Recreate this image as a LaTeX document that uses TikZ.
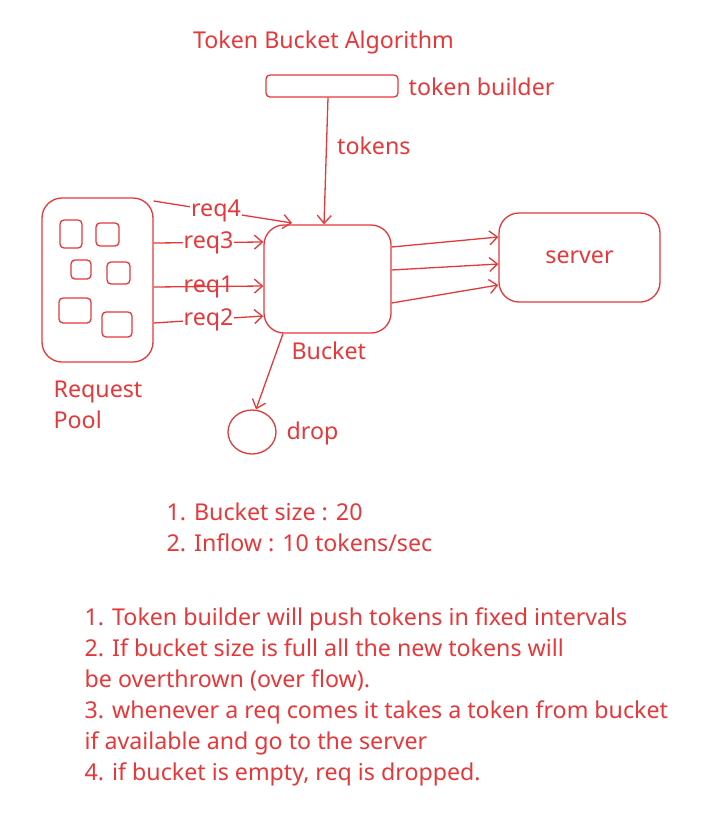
\documentclass[tikz,border=0pt]{standalone}
\usepackage{fontspec}
\setmainfont{Noto Sans}
\usetikzlibrary{arrows.meta,shapes.geometric}
\definecolor{ink}{RGB}{228,56,58}
\begin{document}
\begin{tikzpicture}[x=1pt, y=-1pt, line width=1.3pt, draw=ink, text=ink,
  font=\fontsize{23.2}{31}\selectfont,
  box/.style={draw=ink, rounded corners=20pt, inner sep=0pt},
  lbl/.style={inner sep=0pt, anchor=west},
  tag/.style={fill=white, inner sep=1pt},
  arr/.style={ink, -{Straight Barb[length=8pt, width=14pt, line width=1.3pt]}},
  ]
  \useasboundingbox (0,0) rectangle (713,814);

  %%% title %%%
  \node[inner sep=0pt] (title) at (323.5,42) {Token Bucket Algorithm};

  %%% token builder %%%
  \node[box, rounded corners=4pt, minimum width=132pt, minimum height=22pt] (builder) at (332,86) {};
  \node[lbl] (builderlbl) at (408,87) {token builder};

  %%% bucket, server, drop %%%
  \node[box, minimum width=127pt, minimum height=108pt] (bucket) at (327.5,279) {};
  \node[lbl] (bucketlbl) at (291,351) {Bucket};
  \node[box, minimum width=161pt, minimum height=89pt] (server) at (579.5,257.5) {server};
  \node[draw=ink, ellipse, minimum width=48pt, minimum height=44pt, inner sep=0pt] (drop) at (252,432) {};
  \node[lbl] (droplbl) at (286,433) {drop};

  %%% request pool %%%
  \node[box, minimum width=111pt, minimum height=164pt] (pool) at (97.5,280) {};
  \node[lbl, align=left, anchor=north west] (poollbl) at (53,380) {Request\\Pool};
  \draw[rounded corners=4pt] (60,220) rectangle (82,248);
  \draw[rounded corners=4pt] (96,223) rectangle (119,246);
  \draw[rounded corners=4pt] (71,260) rectangle (91,279);
  \draw[rounded corners=4pt] (107,262) rectangle (130,284);
  \draw[rounded corners=4pt] (59,298) rectangle (91,323);
  \draw[rounded corners=4pt] (102,312) rectangle (132,337);

  %%% tokens into bucket %%%
  \draw[arr] (builder.south -| 328,0) -- node[lbl, pos=0.38, xshift=10pt] (tokens) {tokens} (bucket.north -| 324,0);

  %%% requests into bucket %%%
  \draw[arr] (pool.east |- 0,201) -- node[tag, pos=0.45] (r4) {req4} (292,223);
  \draw[arr] (pool.east |- 0,243) -- node[tag, pos=0.5] (r3) {req3} (bucket.west |- 0,242);
  \draw[arr] (pool.east |- 0,287) -- node[inner sep=1pt, pos=0.5] (r1) {req1} (bucket.west |- 0,286);
  \draw[arr] (pool.east |- 0,323) -- node[tag, pos=0.5] (r2) {req2} (bucket.west |- 0,316);

  %%% bucket to server %%%
  \draw[arr] (bucket.east |- 0,247) -- (server.west |- 0,237);
  \draw[arr] (bucket.east |- 0,270) -- (server.west |- 0,264);
  \draw[arr] (bucket.east |- 0,303) -- (server.west |- 0,285);

  %%% drop %%%
  \draw[arr] (bucket.south -| 283,0) -- (drop.north -| 256,0);

  %%% notes %%%
  \node[lbl, align=left, anchor=north west] (config) at (166,502) {1. Bucket size : 20\\2. Inflow : 10 tokens/sec};
  \node[lbl, align=left, anchor=north west] (rules) at (84,607) {1. Token builder will push tokens in fixed intervals\\
    2. If bucket size is full all the new tokens will\\
    be overthrown (over flow).\\
    3. whenever a req comes it takes a token from bucket\\
    if available and go to the server\\
    4. if bucket is empty, req is dropped.};
\end{tikzpicture}
\end{document}
